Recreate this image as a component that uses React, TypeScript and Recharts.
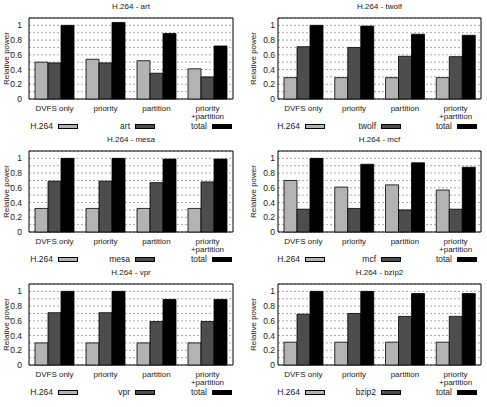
import React from 'react';
import { BarChart, Bar, XAxis, YAxis, CartesianGrid, ReferenceArea } from 'recharts';

// Relative power per policy, one row per benchmark paired with H.264
const categories = ['DVFS only', 'priority', 'partition', 'priority\n+partition'];
const benchmarks = ['art', 'twolf', 'mesa', 'mcf', 'vpr', 'bzip2'];

const h264Power = [
  [0.5, 0.54, 0.52, 0.41],
  [0.29, 0.29, 0.29, 0.29],
  [0.32, 0.32, 0.32, 0.32],
  [0.7, 0.61, 0.64, 0.57],
  [0.3, 0.3, 0.3, 0.3],
  [0.31, 0.31, 0.31, 0.31],
];

const benchPower = [
  [0.49, 0.49, 0.35, 0.3],
  [0.71, 0.7, 0.58, 0.575],
  [0.69, 0.69, 0.67, 0.68],
  [0.31, 0.32, 0.3, 0.31],
  [0.71, 0.71, 0.59, 0.59],
  [0.69, 0.7, 0.66, 0.66],
];

const totalPower = [
  [1.0, 1.04, 0.89, 0.72],
  [1.0, 0.99, 0.88, 0.865],
  [1.0, 1.0, 0.99, 0.99],
  [1.0, 0.92, 0.94, 0.88],
  [1.0, 1.0, 0.89, 0.89],
  [1.0, 1.0, 0.97, 0.97],
];

const yTicks = [0, 0.1, 0.2, 0.3, 0.4, 0.5, 0.6, 0.7, 0.8, 0.9, 1];

const FONT = '"Liberation Sans", Arial, Helvetica, sans-serif';
const TEXT = '#1a1a1a';
const COLORS = { h264: '#b3b3b3', bench: '#4d4d4d', total: '#000000' };

const PANEL_W = 244;
const PANEL_H = 135;
const ROW_STEP = 133;
const PLOT_TOP = 18;
const PLOT_H = 81;

const columns = [
  { left: 0, plotLeft: 29, plotRight: 233, tickGap: 7, labelX: 6, legendEdges: [49, 126, 203] },
  { left: 243, plotLeft: 278, plotRight: 481, tickGap: 3, labelX: 10, legendEdges: [47, 123, 199] },
];

const CategoryTick = (props: any) => {
  const { x, y, payload } = props;
  if (!payload) return <g />;
  const lines = String(payload.value).split('\n');
  return (
    <text x={x} y={y} textAnchor="middle" fontSize={8} fontFamily={FONT} fill={TEXT}>
      {lines.map((line, i) => (
        <tspan key={i} x={x} dy={i === 0 ? 11.5 : 8.5}>
          {line}
        </tspan>
      ))}
    </text>
  );
};

const yTickFormat = (v: number) => (Math.round(v * 10) % 2 === 0 ? String(v) : '');

const Panel = ({ index }: { index: number }) => {
  const col = columns[index % 2];
  const rowTop = Math.floor(index / 2) * ROW_STEP;
  const name = benchmarks[index];
  const data = categories.map((category, i) => ({
    category,
    h264: h264Power[index][i],
    bench: benchPower[index][i],
    total: totalPower[index][i],
  }));
  const axisWidth = col.plotLeft - col.left;
  const plotWidth = col.plotRight - col.plotLeft;
  const legendItems = [
    { label: 'H.264', color: COLORS.h264 },
    { label: name, color: COLORS.bench },
    { label: 'total', color: COLORS.total },
  ];

  return (
    <div style={{ position: 'absolute', left: col.left, top: rowTop, width: PANEL_W, height: PANEL_H }}>
      <div
        style={{
          position: 'absolute',
          left: axisWidth,
          width: plotWidth,
          top: 2,
          textAlign: 'center',
          fontFamily: FONT,
          fontSize: 8,
          lineHeight: '10px',
          color: TEXT,
        }}
      >
        H.264 - {name}
      </div>
      <BarChart
        width={PANEL_W}
        height={PANEL_H}
        data={data}
        margin={{ top: PLOT_TOP, right: PANEL_W - axisWidth - plotWidth, left: 0, bottom: 0 }}
        barCategoryGap={6}
        barGap={0}
      >
        <CartesianGrid vertical={false} stroke="#a8a8a8" strokeDasharray="2 2" />
        <XAxis
          dataKey="category"
          height={PANEL_H - PLOT_TOP - PLOT_H}
          axisLine={false}
          tickLine={false}
          tickSize={0}
          tickMargin={0}
          interval={0}
          tick={CategoryTick}
        />
        <YAxis
          type="number"
          domain={[0, 1.1]}
          ticks={yTicks}
          interval={0}
          width={axisWidth}
          axisLine={false}
          tickLine={false}
          tickSize={0}
          tickMargin={col.tickGap}
          tick={{ fontSize: 8.5, fill: TEXT, fontFamily: FONT }}
          tickFormatter={yTickFormat}
          label={{
            content: () => (
              <text
                x={col.labelX}
                y={PLOT_TOP + PLOT_H / 2}
                transform={`rotate(-90, ${col.labelX}, ${PLOT_TOP + PLOT_H / 2})`}
                textAnchor="middle"
                dominantBaseline="central"
                fontSize={8}
                fontFamily={FONT}
                fill={TEXT}
              >
                Relative power
              </text>
            ),
          }}
        />
        <Bar dataKey="h264" fill={COLORS.h264} stroke="#000" strokeWidth={0.8} isAnimationActive={false} />
        <Bar dataKey="bench" fill={COLORS.bench} stroke="#000" strokeWidth={0.8} isAnimationActive={false} />
        <Bar dataKey="total" fill={COLORS.total} stroke="#000" strokeWidth={0.8} isAnimationActive={false} />
        <ReferenceArea y1={0} y2={1.1} fill="none" stroke="#000" strokeWidth={1} ifOverflow="visible" />
      </BarChart>
      {legendItems.map((item, i) => {
        const edge = axisWidth + col.legendEdges[i];
        return (
          <React.Fragment key={item.label}>
            <div
              style={{
                position: 'absolute',
                left: edge - 90,
                width: 65,
                top: 121,
                textAlign: 'right',
                fontFamily: FONT,
                fontSize: 8.5,
                lineHeight: '11px',
                color: TEXT,
              }}
            >
              {item.label}
            </div>
            <div
              style={{
                position: 'absolute',
                left: edge - 20,
                top: 124,
                width: 20,
                height: 5,
                boxSizing: 'border-box',
                border: '1px solid #000',
                background: item.color,
              }}
            />
          </React.Fragment>
        );
      })}
    </div>
  );
};

const App = () => (
  <div style={{ position: 'absolute', left: 0, top: 0, width: 487, height: 407, background: '#fff' }}>
    {benchmarks.map((b, i) => (
      <Panel key={b} index={i} />
    ))}
  </div>
);

export default App;
